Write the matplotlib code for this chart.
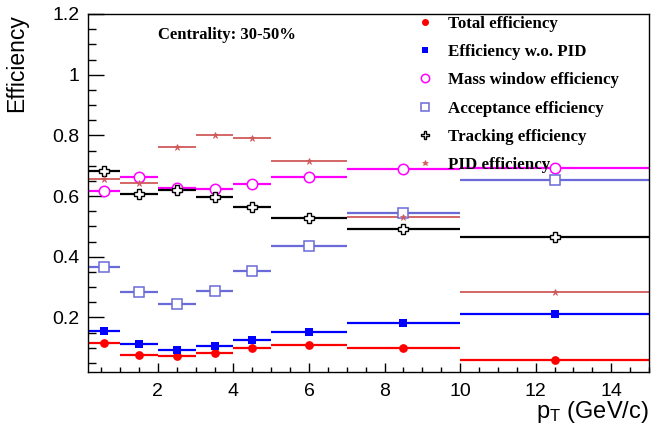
import numpy as np
import matplotlib.pyplot as plt
from matplotlib.lines import Line2D
from matplotlib.ticker import MultipleLocator, FormatStrFormatter

plt.rcParams['font.family'] = 'Liberation Sans'
plt.rcParams['mathtext.fontset'] = 'custom'
plt.rcParams['mathtext.rm'] = 'Liberation Sans'

# pT bins (GeV/c)
bin_edges = [0.15, 1, 2, 3, 4, 5, 7, 10, 15]

total_eff    = [0.116, 0.076, 0.072, 0.084, 0.100, 0.108, 0.098, 0.059]
wo_pid_eff   = [0.155, 0.113, 0.094, 0.106, 0.127, 0.151, 0.183, 0.210]
mass_eff     = [0.618, 0.663, 0.626, 0.622, 0.639, 0.663, 0.688, 0.694]
accept_eff   = [0.367, 0.283, 0.244, 0.288, 0.353, 0.435, 0.543, 0.654]
tracking_eff = [0.683, 0.606, 0.620, 0.597, 0.565, 0.528, 0.492, 0.466]
pid_eff      = [0.656, 0.644, 0.760, 0.802, 0.791, 0.714, 0.530, 0.283]

labels = ["Total efficiency", "Efficiency w.o. PID", "Mass window efficiency",
          "Acceptance efficiency", "Tracking efficiency", "PID efficiency"]

edges = np.array(bin_edges)
centers = 0.5 * (edges[1:] + edges[:-1])
halfw = 0.5 * (edges[1:] - edges[:-1])

fig = plt.figure(figsize=(6.52, 4.32), dpi=100)
ax = fig.add_axes([88/652, 1-372/432, (649-88)/652, (372-14)/432])

styles = [
    dict(fmt='o', color='#ff0000', ms=6.3, mfc='#ff0000', mew=0, lw=1.6),
    dict(fmt='s', color='#0000ff', ms=5.8, mfc='#0000ff', mew=0, lw=1.6),
    dict(fmt='o', color='#ff00ff', ms=7.5, mfc='white', mew=1.1, lw=1.6),
    dict(fmt='s', color='#6a6ad8', ms=7.0, mfc='white', mew=1.1, lw=1.6),
    dict(fmt='P', color='black', ms=7.0, mfc='white', mew=1.0, lw=1.6),
    dict(fmt='*', color='#d05a5a', ms=5.0, mfc='#d05a5a', mew=0.5, lw=1.3),
]
series = [total_eff, wo_pid_eff, mass_eff, accept_eff, tracking_eff, pid_eff]

handles = []
for vals, st in zip(series, styles):
    ax.errorbar(centers, vals, xerr=halfw, fmt=st['fmt'], color=st['color'],
                ms=st['ms'], mfc=st['mfc'], mec=st['color'], mew=st['mew'],
                elinewidth=st['lw'], capsize=0)
    handles.append(Line2D([], [], ls='none', marker=st['fmt'], color=st['color'],
                          ms=st['ms'] * 0.8, mfc=st['mfc'], mec=st['color'], mew=st['mew']))

ax.set_xlim(0.15, 15)
ax.set_ylim(0.02, 1.2)
ax.xaxis.set_major_locator(MultipleLocator(2))
ax.xaxis.set_minor_locator(MultipleLocator(0.5))
ax.yaxis.set_major_locator(MultipleLocator(0.2))
ax.yaxis.set_minor_locator(MultipleLocator(0.05))
ax.xaxis.set_major_formatter(FormatStrFormatter('%g'))
ax.yaxis.set_major_formatter(FormatStrFormatter('%g'))
ax.tick_params(axis='both', which='both', direction='in', top=False, right=False,
               labelsize=14, width=1)
ax.tick_params(axis='y', which='major', length=11.5, pad=6)
ax.tick_params(axis='y', which='minor', length=5.8)
ax.tick_params(axis='x', which='major', length=6.7, pad=8)
ax.tick_params(axis='x', which='minor', length=3.8)
for sp in ax.spines.values():
    sp.set_linewidth(1)

fig.text(0.025, 1-14/432, "Efficiency", rotation=90, ha='center', va='top', fontsize=16.5)
fig.text(649/652, 1-412/432, r"$\mathregular{p_{T}}$ (GeV/c)", ha='right', va='center', fontsize=17)

fig.text(158/652, 1-35/432, "Centrality: 30-50%", ha='left', va='center',
         fontsize=12, fontweight='bold', family='Liberation Serif')

fig.legend(handles, labels, loc='upper left', bbox_to_anchor=(417/652, 1-16/432),
           frameon=False, borderpad=0, borderaxespad=0, handlelength=1.0,
           handletextpad=0.82, labelspacing=0.72,
           prop=dict(family='Liberation Serif', weight='bold', size=12.2))

fig.savefig("out.png", dpi=100)
